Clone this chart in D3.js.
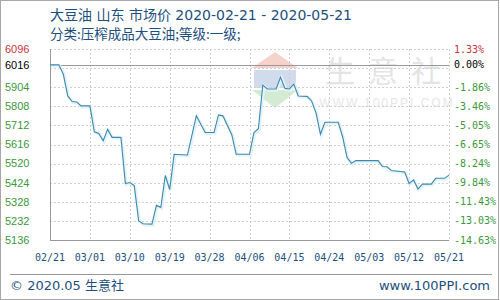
<!DOCTYPE html>
<html>
<head>
<meta charset="utf-8">
<script src="https://cdnjs.cloudflare.com/ajax/libs/d3/7.8.5/d3.min.js"></script>
<style>
  body { margin: 0; background: #fff; }
  text { font-family: "Liberation Sans", Arial, sans-serif; }
</style>
</head>
<body>
<div id="main"></div>
<script>
// price series (vertices of the line)
var dates = ["2020-02-21","2020-02-23","2020-02-24","2020-02-25","2020-02-26","2020-02-27","2020-02-28",
  "2020-03-01","2020-03-02","2020-03-03","2020-03-04","2020-03-05","2020-03-06","2020-03-08","2020-03-09",
  "2020-03-10","2020-03-11","2020-03-12","2020-03-13","2020-03-15","2020-03-16","2020-03-17","2020-03-18",
  "2020-03-19","2020-03-20","2020-03-23","2020-03-25","2020-03-27","2020-03-29","2020-03-30","2020-03-31",
  "2020-04-02","2020-04-03","2020-04-06","2020-04-07","2020-04-08","2020-04-09","2020-04-10","2020-04-12",
  "2020-04-13","2020-04-14","2020-04-15","2020-04-16","2020-04-17","2020-04-19","2020-04-20","2020-04-21",
  "2020-04-22","2020-04-23","2020-04-26","2020-04-27","2020-04-28","2020-04-29","2020-04-30","2020-05-05",
  "2020-05-06","2020-05-07","2020-05-08","2020-05-11","2020-05-12","2020-05-13","2020-05-14","2020-05-15",
  "2020-05-17","2020-05-18","2020-05-20","2020-05-21"];
var prices = [6016,6016,5970,5860,5832,5830,5810,
  5810,5680,5672,5635,5692,5652,5652,5420,
  5425,5410,5232,5218,5216,5310,5300,5460,
  5390,5567,5563,5760,5676,5676,5765,5760,
  5665,5567,5567,5676,5695,5915,5895,5895,
  5954,5898,5895,5919,5860,5858,5835,5775,
  5668,5728,5728,5655,5550,5522,5535,5535,
  5505,5504,5485,5478,5420,5438,5392,5417,
  5417,5446,5446,5462];

// axis ticks
var yTicks = [6096,6000,5904,5808,5712,5616,5520,5424,5328,5232,5136];
var leftLabels = ["6096","6016","5904","5808","5712","5616","5520","5424","5328","5232","5136"];
var labelValues = [6096,6016,5904,5808,5712,5616,5520,5424,5328,5232,5136];
var rightLabels = ["1.33%","0.00%","-1.86%","-3.46%","-5.05%","-6.65%","-8.24%","-9.84%","-11.43%","-13.03%","-14.63%"];
var xTicks = ["2020-02-21","2020-03-01","2020-03-10","2020-03-19","2020-03-28","2020-04-06",
  "2020-04-15","2020-04-24","2020-05-03","2020-05-12","2020-05-21"];
var basePrice = 6016;

var title = "大豆油 山东 市场价 2020-02-21 - 2020-05-21";
var subtitle = "分类:压榨成品大豆油;等级:一级;";
var watermarkChars = ["生", "意", "社"];

var W = 500, H = 300;
var plot = {left: 50, right: 449, top: 49, bottom: 240};

var parse = d3.timeParse("%Y-%m-%d");
var fmt = d3.timeFormat("%m/%d");
var data = dates.map(function(d, i) { return {date: parse(d), value: prices[i]}; });

var svg = d3.select("#main").append("svg")
    .attr("width", W)
    .attr("height", H);

// outer border
svg.append("rect")
    .attr("x", 0.5).attr("y", 0.5)
    .attr("width", W - 2).attr("height", H - 1)
    .attr("fill", "#fff")
    .attr("stroke", "#a8a8a8");

var x = d3.scaleTime()
    .domain([parse(xTicks[0]), parse(xTicks[xTicks.length - 1])])
    .range([plot.left, plot.right]);
var y = d3.scaleLinear()
    .domain([5136, 6096])
    .range([plot.bottom, plot.top]);

// titles
var cjk = '"Noto Sans CJK SC", sans-serif';
var mixed = '"DejaVu Sans", "Noto Sans CJK SC", sans-serif';
svg.append("text")
    .attr("x", 50).attr("y", 20)
    .style("font-family", mixed)
    .style("font-size", "14px")
    .attr("fill", "#1d4f7c")
    .text(title);
svg.append("text")
    .attr("x", 50).attr("y", 39)
    .style("font-family", cjk)
    .style("font-size", "13.5px")
    .attr("fill", "#1d4f7c")
    .text(subtitle);

// watermark
var wm = svg.append("g").attr("opacity", 0.4);
wm.append("path").attr("d", "M275,52 L298,68 L252,68 Z").attr("fill", "#e8907c");
wm.append("rect").attr("x", 254).attr("y", 70).attr("width", 42).attr("height", 18).attr("fill", "#8fa6d0");
wm.append("path").attr("d", "M252,90 L298,90 L275,108 Z").attr("fill", "#94cf94");
svg.selectAll("text.wm")
    .data(watermarkChars)
    .enter().append("text")
    .attr("class", "wm")
    .attr("x", function(d, i) { return 340 + i * 43; })
    .attr("y", 82)
    .attr("text-anchor", "middle")
    .style("font-family", cjk)
    .style("font-size", "30px")
    .attr("fill", "#e4e4e4")
    .text(function(d) { return d; });
svg.append("text")
    .attr("x", 387).attr("y", 107)
    .attr("text-anchor", "middle")
    .style("font-size", "12px")
    .style("letter-spacing", "2px")
    .attr("fill", "#e6e6e6")
    .text("WWW.100PPI.COM");

// grid
var grid = svg.append("g")
    .attr("stroke", "#cfcfcf")
    .attr("stroke-dasharray", "2,2");
grid.selectAll("line.h")
    .data(yTicks)
    .enter().append("line")
    .attr("x1", plot.left).attr("x2", plot.right)
    .attr("y1", function(d) { return Math.round(y(d)) + 0.5; })
    .attr("y2", function(d) { return Math.round(y(d)) + 0.5; });
grid.selectAll("line.v")
    .data(xTicks)
    .enter().append("line")
    .attr("y1", plot.top).attr("y2", plot.bottom)
    .attr("x1", function(d) { return Math.round(x(parse(d))) + 0.5; })
    .attr("x2", function(d) { return Math.round(x(parse(d))) + 0.5; });

// frame and base line
svg.append("line")
    .attr("x1", plot.left + 0.5).attr("x2", plot.left + 0.5)
    .attr("y1", plot.top).attr("y2", plot.bottom)
    .attr("stroke", "#999");
svg.append("line")
    .attr("x1", plot.left).attr("x2", plot.right)
    .attr("y1", plot.bottom + 0.5).attr("y2", plot.bottom + 0.5)
    .attr("stroke", "#999");
svg.append("line")
    .attr("x1", plot.left).attr("x2", plot.right)
    .attr("y1", Math.round(y(basePrice)) + 0.5).attr("y2", Math.round(y(basePrice)) + 0.5)
    .attr("stroke", "#999");

// price line
var line = d3.line()
    .x(function(d) { return x(d.date); })
    .y(function(d) { return y(d.value); });
svg.append("path")
    .datum(data)
    .attr("fill", "none")
    .attr("stroke", "#e2f4fa")
    .attr("stroke-width", 3)
    .attr("transform", "translate(1,1)")
    .attr("d", line);
svg.append("path")
    .datum(data)
    .attr("fill", "none")
    .attr("stroke", "#3f88ad")
    .attr("stroke-width", 1.1)
    .attr("d", line);

// left labels
function labelColor(i) {
    if (i == 0) return "#c8343c";
    if (i == 1) return "#000";
    return "#3c983c";
}
svg.selectAll("text.left")
    .data(leftLabels)
    .enter().append("text")
    .attr("class", "left")
    .attr("x", 5)
    .attr("y", function(d, i) { return y(labelValues[i]); })
    .attr("dy", "0.35em")
    .style("font-size", "11px")
    .attr("fill", function(d, i) { return labelColor(i); })
    .text(function(d) { return d; });

// right labels
svg.selectAll("text.right")
    .data(rightLabels)
    .enter().append("text")
    .attr("class", "right")
    .attr("x", 454)
    .attr("y", function(d, i) { return y(labelValues[i]); })
    .attr("dy", "0.35em")
    .style("font-family", '"DejaVu Sans Mono", monospace')
    .style("font-size", "10px")
    .attr("fill", function(d, i) { return labelColor(i); })
    .text(function(d) { return d; });

// date labels
svg.selectAll("text.date")
    .data(xTicks)
    .enter().append("text")
    .attr("class", "date")
    .attr("x", function(d) { return x(parse(d)); })
    .attr("y", 261)
    .attr("text-anchor", "middle")
    .style("font-family", '"DejaVu Sans Mono", monospace')
    .style("font-size", "10px")
    .attr("fill", "#1d4f7c")
    .text(function(d) { return fmt(parse(d)); });

// footer
svg.append("line")
    .attr("x1", 10).attr("x2", 492)
    .attr("y1", 274.5).attr("y2", 274.5)
    .attr("stroke", "#999");
svg.append("text")
    .attr("x", 10).attr("y", 290)
    .style("font-family", mixed)
    .style("font-size", "13px")
    .attr("fill", "#1d4f7c")
    .text("© 2020.05 生意社");
svg.append("text")
    .attr("x", 490).attr("y", 290)
    .attr("text-anchor", "end")
    .style("font-family", '"DejaVu Sans", sans-serif')
    .style("font-size", "13px")
    .attr("fill", "#1d4f7c")
    .text("www.100PPI.com");
</script>
</body>
</html>
